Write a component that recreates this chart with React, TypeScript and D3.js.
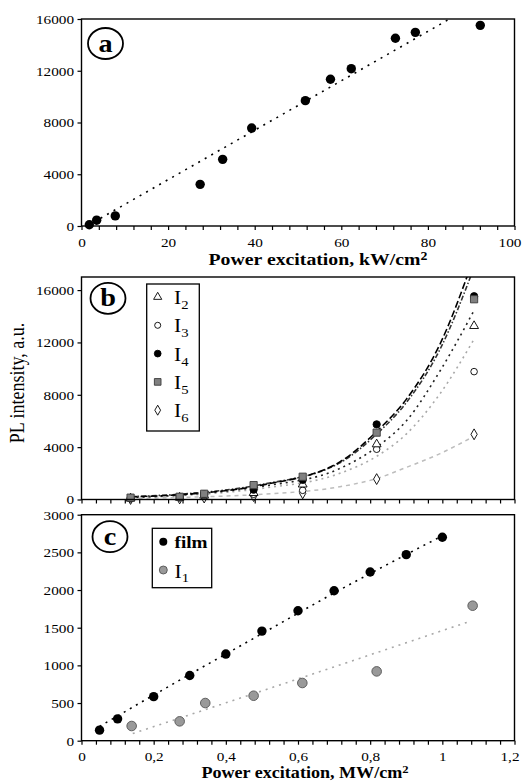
import React, { useEffect, useRef } from "react";
import * as d3 from "d3";

// panel a: kW/cm2 excitation
const powerA = [1.8, 3.5, 7.8, 27.4, 32.6, 39.3, 51.7, 57.5, 62.3, 72.5, 77.1, 92.1];
const intensityA = [100, 450, 780, 3220, 5150, 7570, 9690, 11340, 12160, 14510, 14970, 15510];
const trendAx = [4.4, 85];
const trendAy = [600, 16000];

// panel b: MW/cm2 excitation, five series
const powerB = [0.136, 0.272, 0.34, 0.477, 0.613, 0.818, 1.088];
const i2 = [80, 150, 300, 500, 1150, 4220, 13260];
const i3 = [60, 120, 250, 400, 700, 3840, 9770];
const i4 = [100, 200, 400, 750, 1500, 5740, 15530];
const i5 = [140, 210, 440, 1100, 1740, 5110, 15300];
const i6 = [40, 80, 150, 260, 470, 1560, 4980];
const trendBx = [0.136, 0.3, 0.5, 0.716, 0.818, 0.9, 0.994, 1.089];
const trendI2 = [150, 400, 1000, 2370, 4000, 6000, 9840, 14500];
const trendI3 = [130, 340, 850, 2000, 3300, 5000, 8100, 12300];
const trendI4 = [200, 420, 1100, 2870, 5200, 7650, 11900, 18600];
const trendI5 = [220, 460, 1150, 2800, 5000, 7400, 11500, 17800];
const trendI6 = [80, 180, 400, 975, 1600, 2450, 3510, 4850];

// panel c
const powerFilm = [0.05, 0.1, 0.2, 0.3, 0.4, 0.5, 0.6, 0.7, 0.8, 0.9, 1.0];
const film = [140, 290, 585, 865, 1150, 1455, 1725, 1990, 2240, 2470, 2700];
const powerI1 = [0.139, 0.272, 0.343, 0.477, 0.612, 0.818, 1.084];
const i1 = [195, 257, 500, 597, 766, 920, 1792];
const trendFilmX = [0.05, 0.3, 0.5, 0.7, 1.0];
const trendFilmY = [190, 880, 1420, 1960, 2720];
const trendI1X = [0.142, 0.6, 1.08];
const trendI1Y = [95, 820, 1590];

const ticksKW = [0, 20, 40, 60, 80, 100];
const ticksMW = [0, 0.2, 0.4, 0.6, 0.8, 1, 1.2];
const ticksBig = [0, 4000, 8000, 12000, 16000];
const ticksSmall = [0, 500, 1000, 1500, 2000, 2500, 3000];

const FONT = "'Liberation Serif', 'Times New Roman', serif";
const SX = 1.13; // the picture is a bit stretched sideways

const App = () => {
  const ref = useRef<SVGSVGElement>(null);

  useEffect(() => {
    const svg = d3.select(ref.current);
    svg.selectAll("*").remove();

    const left = 81.5;
    const right = 514.5;

    const xA = d3.scaleLinear().domain([0, 100]).range([left, right]);
    const yA = d3.scaleLinear().domain([0, 16000]).range([226, 19]);
    const xMW = d3.scaleLinear().domain([0, 1.2]).range([left, right]);
    const yB = d3.scaleLinear().domain([0, 17000]).range([499.5, 277]);
    const yC = d3.scaleLinear().domain([0, 3000]).range([740.7, 514.7]);

    const fmtMW = (d: number) => String(+d.toFixed(1)).replace(".", ",");

    const bottomAxis = (x: any, y0: number, step: number, labels: number[] | null, fmt: (d: number) => string) => {
      const [d0, d1] = x.domain();
      const vals = d3.range(0, Math.round((d1 - d0) / step) + 1).map((i) => d0 + i * step);
      const isLabel = (v: number) => labels !== null && labels.some((l) => Math.abs(l - v) < 1e-6);
      const g = svg
        .append("g")
        .attr("transform", `translate(0,${y0})`)
        .call(
          d3
            .axisBottom(x)
            .tickValues(vals)
            .tickSize(4)
            .tickSizeOuter(0)
            .tickPadding(7)
            .tickFormat((d: any) => (isLabel(d) ? fmt(d) : "")) as any
        );
      g.select(".domain").remove();
      g.attr("font-family", FONT).attr("font-size", 13.5);
      g.selectAll("line").attr("stroke", "#000").attr("stroke-width", 1.2);
      g.selectAll("text").attr("fill", "#000").attr("transform", `scale(${SX},1)`);
      // the last label sits a little inside the right edge, as in the original
      g.selectAll("text")
        .filter((d: any) => Math.abs(d - d1) < 1e-6)
        .attr("x", -5 / SX);
    };

    const leftAxis = (y: any, ticks: number[]) => {
      const g = svg
        .append("g")
        .attr("transform", `translate(${left},0)`)
        .call(
          d3
            .axisLeft(y)
            .tickValues(ticks)
            .tickSize(4)
            .tickSizeOuter(0)
            .tickPadding(3.5)
            .tickFormat(d3.format("d")) as any
        );
      g.select(".domain").remove();
      g.attr("font-family", FONT).attr("font-size", 13.5);
      g.selectAll("line").attr("stroke", "#000").attr("stroke-width", 1.2);
      g.selectAll("text")
        .attr("fill", "#000")
        .attr("x", -7.5 / SX)
        .attr("transform", `scale(${SX},1)`);
    };

    const frame = (top: number, bottom: number) => {
      svg
        .append("rect")
        .attr("x", left)
        .attr("y", top)
        .attr("width", right - left)
        .attr("height", bottom - top)
        .attr("fill", "none")
        .attr("stroke", "#000")
        .attr("stroke-width", 1.4);
    };

    const badge = (cx: number, cy: number, letter: string) => {
      svg
        .append("ellipse")
        .attr("cx", cx)
        .attr("cy", cy)
        .attr("rx", 17.5)
        .attr("ry", 15.5)
        .attr("fill", "#fff")
        .attr("stroke", "#000")
        .attr("stroke-width", 1.8);
      svg
        .append("text")
        .attr("transform", `translate(${cx},${cy + 8}) scale(${SX},1)`)
        .attr("text-anchor", "middle")
        .attr("font-family", FONT)
        .attr("font-weight", "bold")
        .attr("font-size", 25)
        .text(letter);
    };

    const title = (x: number, y: number, main: string, size: number) => {
      const t = svg
        .append("text")
        .attr("transform", `translate(${x},${y}) scale(${SX},1)`)
        .attr("text-anchor", "middle")
        .attr("font-family", FONT)
        .attr("font-weight", "bold")
        .attr("font-size", size);
      t.append("tspan").text(main);
      t.append("tspan").attr("dy", -size * 0.3).attr("font-size", size * 0.7).text("2");
    };

    const trend = (clip: string, x: any, y: any, xs: number[], ys: number[], color: string, dash: string, width = 1.5) => {
      const line = d3
        .line<number>()
        .x((d, i) => x(xs[i]))
        .y((d) => y(d))
        .curve(d3.curveMonotoneX);
      svg
        .append("path")
        .attr("clip-path", `url(#${clip})`)
        .attr("d", line(ys))
        .attr("fill", "none")
        .attr("stroke", color)
        .attr("stroke-width", width)
        .attr("stroke-dasharray", dash);
    };

    const defs = svg.append("defs");
    [
      ["clipA", 19, 226],
      ["clipB", 277, 499.5],
      ["clipC", 514.7, 740.7],
    ].forEach(([id, t, b]: any) => {
      defs
        .append("clipPath")
        .attr("id", id)
        .append("rect")
        .attr("x", left)
        .attr("y", t)
        .attr("width", right - left)
        .attr("height", b - t);
    });

    svg.append("rect").attr("width", 523).attr("height", 781).attr("fill", "#fff");

    // ---------- panel a ----------
    trend("clipA", xA, yA, trendAx, trendAy, "#000", "2,5.5", 1.6);
    svg
      .append("g")
      .selectAll("circle")
      .data(intensityA)
      .enter()
      .append("circle")
      .attr("cx", (d, i) => xA(powerA[i]))
      .attr("cy", (d) => yA(d))
      .attr("r", 4.7)
      .attr("fill", "#000");
    frame(19, 226);
    leftAxis(yA, ticksBig);
    bottomAxis(xA, 226, 4, ticksKW, (d) => String(d));
    badge(105.5, 43.5, "a");
    title(318, 265, "Power excitation, kW/cm", 17.5);

    // ---------- panel b ----------
    trend("clipB", xMW, yB, trendBx, trendI6, "#bdbdbd", "4,4", 1.5);
    trend("clipB", xMW, yB, trendBx, trendI3, "#a8a8a8", "2,4", 1.6);
    trend("clipB", xMW, yB, trendBx, trendI2, "#222", "2,4", 1.6);
    trend("clipB", xMW, yB, trendBx, trendI5, "#333", "5,2,1.5,2", 1.6);
    trend("clipB", xMW, yB, trendBx, trendI4, "#000", "7,3", 1.6);

    const sym = (type: any, size: number) => d3.symbol().type(type).size(size)();
    const seriesB = [
      { vals: i6, type: d3.symbolDiamond, size: 34, fill: "#fff", stroke: "#000" },
      { vals: i3, type: d3.symbolCircle, size: 34, fill: "#fff", stroke: "#000" },
      { vals: i2, type: d3.symbolTriangle, size: 34, fill: "#fff", stroke: "#000" },
      { vals: i4, type: d3.symbolCircle, size: 42, fill: "#000", stroke: "#000" },
      { vals: i5, type: d3.symbolSquare, size: 52, fill: "#808080", stroke: "#3a3a3a" },
    ];
    seriesB.forEach((s) => {
      svg
        .append("g")
        .selectAll("path")
        .data(s.vals)
        .enter()
        .append("path")
        .attr("transform", (d, i) => `translate(${xMW(powerB[i])},${yB(d)})`)
        .attr("d", sym(s.type, s.size))
        .attr("fill", s.fill)
        .attr("stroke", s.stroke)
        .attr("stroke-width", 0.9);
    });
    frame(277, 499.5);
    leftAxis(yB, ticksBig);
    bottomAxis(xMW, 499.5, 0.04, null, () => "");
    badge(108, 298.3, "b");

    // legend b
    svg
      .append("rect")
      .attr("x", 146.7)
      .attr("y", 284)
      .attr("width", 52.6)
      .attr("height", 147)
      .attr("fill", "#fff")
      .attr("stroke", "#000")
      .attr("stroke-width", 1.3);
    const legendB = [
      { name: "2", s: seriesB[2] },
      { name: "3", s: seriesB[1] },
      { name: "4", s: seriesB[3] },
      { name: "5", s: seriesB[4] },
      { name: "6", s: seriesB[0] },
    ];
    legendB.forEach((l, i) => {
      const cy = 297 + i * 28.3;
      svg
        .append("path")
        .attr("transform", `translate(157.7,${cy})`)
        .attr("d", sym(l.s.type, l.s.size * 0.85))
        .attr("fill", l.s.fill)
        .attr("stroke", l.s.stroke)
        .attr("stroke-width", 0.9);
      const t = svg
        .append("text")
        .attr("transform", `translate(174,${cy + 7}) scale(${SX},1)`)
        .attr("font-family", FONT)
        .attr("font-size", 19);
      t.append("tspan").text("I");
      t.append("tspan").attr("dy", 5).attr("font-size", 13).text(l.name);
    });

    svg
      .append("text")
      .attr("transform", `translate(24,383) scale(${SX},1) rotate(-90)`)
      .attr("text-anchor", "middle")
      .attr("font-family", FONT)
      .attr("font-size", 18)
      .text("PL intensity, a.u.");

    // ---------- panel c ----------
    trend("clipC", xMW, yC, trendI1X, trendI1Y, "#a8a8a8", "2,5", 1.6);
    trend("clipC", xMW, yC, trendFilmX, trendFilmY, "#000", "2,5", 1.6);
    svg
      .append("g")
      .selectAll("circle")
      .data(i1)
      .enter()
      .append("circle")
      .attr("cx", (d, i) => xMW(powerI1[i]))
      .attr("cy", (d) => yC(d))
      .attr("r", 4.8)
      .attr("fill", "#999")
      .attr("stroke", "#555")
      .attr("stroke-width", 0.9);
    svg
      .append("g")
      .selectAll("circle")
      .data(film)
      .enter()
      .append("circle")
      .attr("cx", (d, i) => xMW(powerFilm[i]))
      .attr("cy", (d) => yC(d))
      .attr("r", 4.7)
      .attr("fill", "#000");
    frame(514.7, 740.7);
    leftAxis(yC, ticksSmall);
    bottomAxis(xMW, 740.7, 0.04, ticksMW, fmtMW);
    badge(110, 536.7, "c");
    title(305, 778, "Power excitation, MW/cm", 16);

    // legend c
    svg
      .append("rect")
      .attr("x", 152.3)
      .attr("y", 528.3)
      .attr("width", 59.4)
      .attr("height", 59.4)
      .attr("fill", "#fff")
      .attr("stroke", "#000")
      .attr("stroke-width", 1.3);
    svg.append("circle").attr("cx", 163.3).attr("cy", 541.7).attr("r", 4).attr("fill", "#000");
    svg
      .append("circle")
      .attr("cx", 163.3)
      .attr("cy", 570)
      .attr("r", 4)
      .attr("fill", "#999")
      .attr("stroke", "#555")
      .attr("stroke-width", 0.9);
    svg
      .append("text")
      .attr("transform", `translate(174.5,548) scale(${SX},1)`)
      .attr("font-family", FONT)
      .attr("font-weight", "bold")
      .attr("font-size", 17)
      .text("film");
    const tI1 = svg
      .append("text")
      .attr("transform", `translate(174.5,578) scale(${SX},1)`)
      .attr("font-family", FONT)
      .attr("font-size", 19);
    tI1.append("tspan").text("I");
    tI1.append("tspan").attr("dy", 4).attr("font-size", 13).text("1");
  }, []);

  return (
    <svg
      ref={ref}
      width={523}
      height={781}
      style={{ position: "absolute", left: 0, top: 0, display: "block" }}
    />
  );
};

export default App;
